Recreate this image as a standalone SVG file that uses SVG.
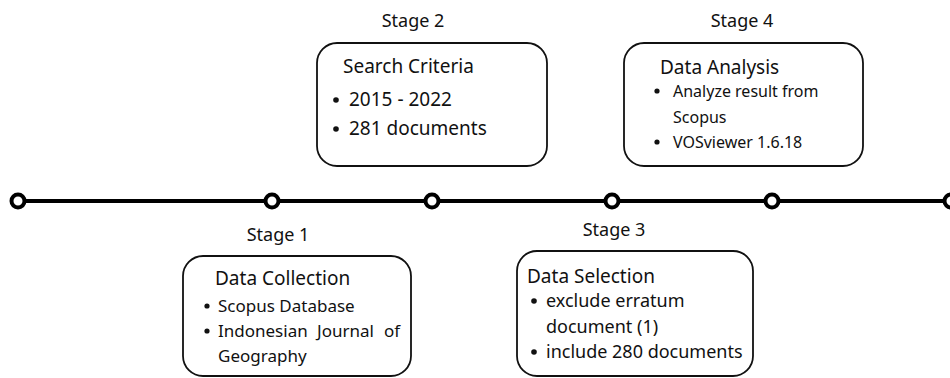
<svg xmlns="http://www.w3.org/2000/svg" width="950" height="378" viewBox="0 0 950 378">
<style>
text{font-family:"Noto Sans","DejaVu Sans",sans-serif;fill:#111}
.lbl{font-size:18px;text-anchor:middle}
.ttl{font-size:19px}
.bul{fill:#111}
.box{fill:#fff;stroke:#111;stroke-width:1.8}
.dot{fill:#fff;stroke:#000;stroke-width:4}
</style>
<rect width="950" height="378" fill="#fff"/>
<g id="connectors">
<line x1="18" y1="201" x2="951" y2="201" stroke="#000" stroke-width="4"/>
</g>
<g id="timeline-points">
<circle class="dot" cx="18" cy="201" r="6.5"/>
<circle class="dot" cx="272" cy="201" r="6.5"/>
<circle class="dot" cx="432" cy="201" r="6.5"/>
<circle class="dot" cx="612" cy="201" r="6.5"/>
<circle class="dot" cx="772" cy="201" r="6.5"/>
<circle class="dot" cx="951" cy="201" r="6.5"/>
</g>
<g id="stage2">
<text class="lbl" x="413" y="27">Stage 2</text>
<rect class="box" x="317" y="43" width="230" height="123" rx="20"/>
<text class="ttl" x="343" y="73">Search Criteria</text>
<circle class="bul" cx="336" cy="100" r="2.8"/><text font-size="19" x="349" y="106">2015 - 2022</text>
<circle class="bul" cx="336" cy="129" r="2.8"/><text font-size="19" x="349" y="135">281 documents</text>
</g>
<g id="stage4">
<text class="lbl" x="742" y="27">Stage 4</text>
<rect class="box" x="624" y="43" width="239" height="123" rx="20"/>
<text class="ttl" x="660" y="74">Data Analysis</text>
<circle class="bul" cx="657" cy="91" r="2.6"/><text font-size="16" x="673" y="97">Analyze result from</text>
<text font-size="16" x="673" y="123">Scopus</text>
<circle class="bul" cx="657" cy="142" r="2.6"/><text font-size="16" x="673" y="148">VOSviewer 1.6.18</text>
</g>
<g id="stage1">
<text class="lbl" x="278" y="241">Stage 1</text>
<rect class="box" x="183" y="256" width="228" height="120" rx="20"/>
<text class="ttl" x="215" y="285">Data Collection</text>
<circle class="bul" cx="207" cy="306" r="2.6"/><text font-size="17" x="218" y="312">Scopus Database</text>
<circle class="bul" cx="207" cy="331" r="2.6"/><text font-size="17" y="337"><tspan x="218">Indonesian</tspan><tspan x="317">Journal</tspan><tspan x="384">of</tspan></text>
<text font-size="17" x="218" y="362">Geography</text>
</g>
<g id="stage3">
<text class="lbl" x="614" y="236">Stage 3</text>
<rect class="box" x="517" y="251" width="236" height="125" rx="20"/>
<text class="ttl" x="527" y="283">Data Selection</text>
<circle class="bul" cx="534" cy="301" r="2.8"/><text font-size="18" x="546" y="307">exclude erratum</text>
<text font-size="18" x="546" y="333">document (1)</text>
<circle class="bul" cx="534" cy="352" r="2.8"/><text font-size="18" x="546" y="358">include 280 documents</text>
</g>
</svg>
